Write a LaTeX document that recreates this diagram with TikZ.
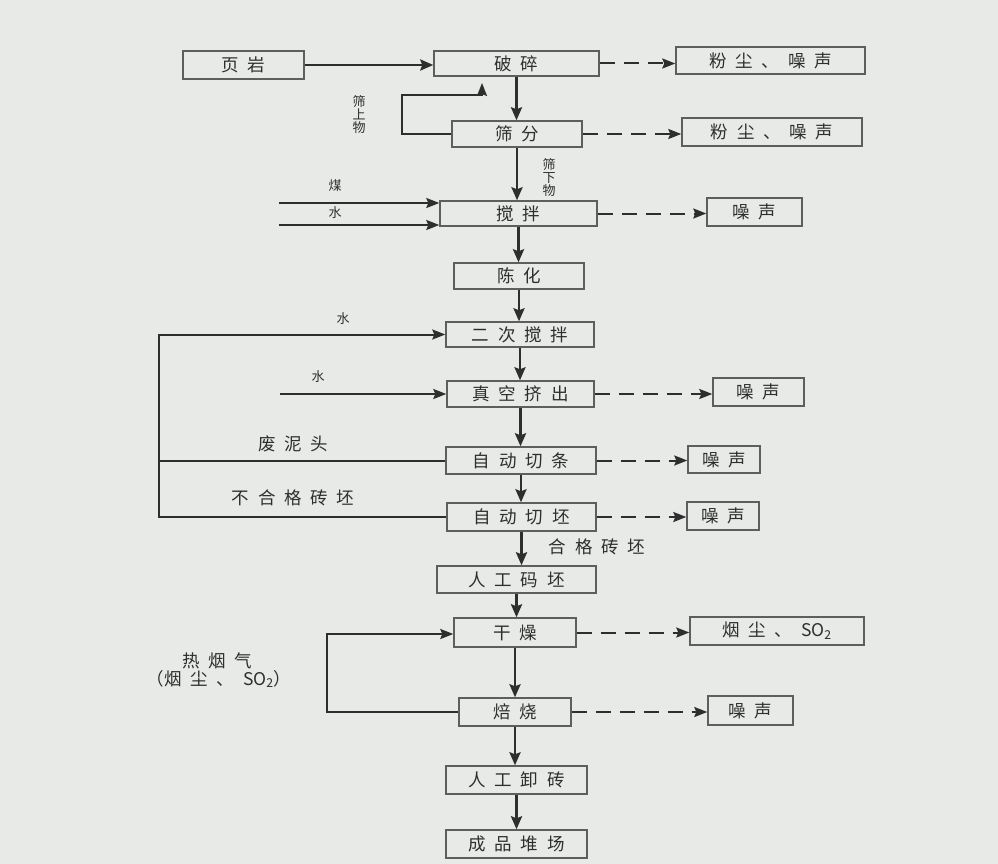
\documentclass[tikz,border=0pt]{standalone}
\usepackage{fontspec}
\setmainfont{Noto Sans CJK SC}
\usetikzlibrary{arrows.meta}
\definecolor{bg}{HTML}{E7EAE7}
\definecolor{ink}{HTML}{2E2E2E}
\definecolor{edge}{HTML}{5E5E5E}
\newcommand{\cg}{\hspace{0.5em}}
\begin{document}
\begin{tikzpicture}[x=1pt,y=-1pt,
  box/.style={draw=edge, line width=1.4pt, inner sep=0pt, text=ink, font=\fontsize{17.5}{19}\selectfont},
  flow/.style={draw=ink, line width=2.6pt, -{Stealth[length=13pt,width=11pt,inset=2pt]}},
  link/.style={draw=ink, line width=2pt},
  feed/.style={draw=ink, line width=2pt, -{Stealth[length=13pt,width=10pt,inset=2pt]}},
  emit/.style={draw=ink, line width=2pt, dash pattern=on 15pt off 9pt, -{Stealth[length=13pt,width=10pt,inset=2pt]}},
  lab/.style={text=ink, font=\fontsize{17.5}{19}\selectfont, inner sep=0pt},
  sml/.style={text=ink, font=\fontsize{13}{13}\selectfont, inner sep=0pt, align=center},
]
\fill[bg] (0,0) rectangle (998,864);
\useasboundingbox (0,0) rectangle (998,864);

% boxes
\node[box, minimum width=121pt, minimum height=28pt] (ya) at (243.5,65) {页\cg 岩};
\node[box, minimum width=165pt, minimum height=25pt] (ps) at (516.5,63.5) {破\cg 碎};
\node[box, minimum width=189pt, minimum height=27pt] (fc1) at (770.5,60.5) {粉\cg 尘\cg 、\cg 噪\cg 声};
\node[box, minimum width=130pt, minimum height=26pt] (sf) at (517,134) {筛\cg 分};
\node[box, minimum width=180pt, minimum height=28pt] (fc2) at (772,132) {粉\cg 尘\cg 、\cg 噪\cg 声};
\node[box, minimum width=157pt, minimum height=25pt] (jb) at (518.5,213.5) {搅\cg 拌};
\node[box, minimum width=95pt, minimum height=28pt] (zs1) at (754.5,212) {噪\cg 声};
\node[box, minimum width=130pt, minimum height=26pt] (ch) at (519,276) {陈\cg 化};
\node[box, minimum width=148pt, minimum height=25pt] (ec) at (520,334.5) {二\cg 次\cg 搅\cg 拌};
\node[box, minimum width=147pt, minimum height=26pt] (zk) at (520.5,394) {真\cg 空\cg 挤\cg 出};
\node[box, minimum width=91pt, minimum height=28pt] (zs2) at (758.5,392) {噪\cg 声};
\node[box, minimum width=150pt, minimum height=27pt] (qt) at (521,460.5) {自\cg 动\cg 切\cg 条};
\node[box, minimum width=72pt, minimum height=27pt] (zs3) at (724,459.5) {噪\cg 声};
\node[box, minimum width=149pt, minimum height=28pt] (qp) at (521.5,517) {自\cg 动\cg 切\cg 坯};
\node[box, minimum width=72pt, minimum height=28pt] (zs4) at (723,516) {噪\cg 声};
\node[box, minimum width=159pt, minimum height=27pt] (mp) at (516.5,579.5) {人\cg 工\cg 码\cg 坯};
\node[box, minimum width=122pt, minimum height=29pt] (gz) at (515,632.5) {干\cg 燥};
\node[box, minimum width=174pt, minimum height=28pt] (yc) at (777,631) {烟\cg 尘\cg 、\cg SO\textsubscript{2}};
\node[box, minimum width=112pt, minimum height=28pt] (bs) at (515,712) {焙\cg 烧};
\node[box, minimum width=85pt, minimum height=29pt] (zs5) at (750.5,710.5) {噪\cg 声};
\node[box, minimum width=141pt, minimum height=28pt] (xz) at (516.5,780) {人\cg 工\cg 卸\cg 砖};
\node[box, minimum width=141pt, minimum height=28pt] (cp) at (516.5,844) {成\cg 品\cg 堆\cg 场};

% labels
\node[sml] (l1) at (359,115) {筛\\上\\物};
\node[sml] (l2) at (549,178) {筛\\下\\物};
\node[sml] (l3) at (335,186) {煤};
\node[sml] (l4) at (335,213) {水};
\node[sml] (l5) at (343,319) {水};
\node[sml] (l6) at (318,377) {水};
\node[lab] (l7) at (293,444) {废\cg 泥\cg 头};
\node[lab] (l8) at (293,498) {不\cg 合\cg 格\cg 砖\cg 坯};
\node[lab] (l9) at (597,547) {合\cg 格\cg 砖\cg 坯};
\node[lab] (l10) at (217,661) {热\cg 烟\cg 气};
\node[lab] (l11) at (219,679) {（烟\cg 尘\cg 、\cg SO\textsubscript{2}）};

% coordinates
\coordinate (fb1) at (402,95);
\coordinate (fb2) at (482,83);
\coordinate (m0) at (279,203);
\coordinate (w0) at (279,225);
\coordinate (w1) at (280,394);
\coordinate (Ltop) at (159,334.5);
\coordinate (Rl) at (327,634);

% main flow
\draw[flow] (ya.east) -- (ya.east -| ps.west);
\draw[flow] (ps.south) -- (ps.south |- sf.north);
\draw[flow] (sf.south) -- (sf.south |- jb.north);
\draw[flow] (jb.south) -- (jb.south |- ch.north);
\draw[flow] (ch.south) -- (ch.south |- ec.north);
\draw[flow] (ec.south) -- (ec.south |- zk.north);
\draw[flow] (zk.south) -- (zk.south |- qt.north);
\draw[flow] (qt.south) -- (qt.south |- qp.north);
\draw[flow] (qp.south) -- (qp.south |- mp.north);
\draw[flow] (mp.south) -- (mp.south |- gz.north);
\draw[flow] (gz.south) -- (gz.south |- bs.north);
\draw[flow] (bs.south) -- (bs.south |- xz.north);
\draw[flow] (xz.south) -- (xz.south |- cp.north);

% feedback and inputs
\draw[feed] (sf.west) -| (fb1) -| (fb2);
\draw[feed] (m0) -- (m0 -| jb.west);
\draw[feed] (w0) -- (w0 -| jb.west);
\draw[feed] (w1) -- (w1 -| zk.west);
\draw[feed] (qp.west) -| (Ltop) -- (ec.west);
\draw[link] (qt.west) -- (qt.west -| Ltop);
\draw[feed] (bs.west) -| (Rl) -- (Rl -| gz.west);

% emissions
\draw[emit] (ps.east) -- (ps.east -| fc1.west);
\draw[emit] (sf.east) -- (sf.east -| fc2.west);
\draw[emit] (jb.east) -- (jb.east -| zs1.west);
\draw[emit] (zk.east) -- (zk.east -| zs2.west);
\draw[emit] (qt.east) -- (qt.east -| zs3.west);
\draw[emit] (qp.east) -- (qp.east -| zs4.west);
\draw[emit] (gz.east) -- (gz.east -| yc.west);
\draw[emit] (bs.east) -- (bs.east -| zs5.west);
\end{tikzpicture}
\end{document}
